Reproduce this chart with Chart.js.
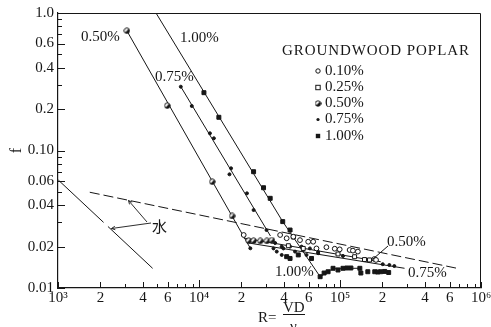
<!DOCTYPE html>
<html><head><meta charset="utf-8">
<script src="https://cdn.jsdelivr.net/npm/chart.js@4"></script>
<style>html,body{margin:0;padding:0;background:#fff;}canvas{display:block;}</style>
</head><body>
<canvas id="c" width="491" height="327" style="width:491px;height:327px"></canvas>
<script>
const INK = '#161616';
const SERIF = '"Liberation Serif", "DejaVu Serif", serif';

// ---- axes ----
const xTickValues = [1e3, 2e3, 4e3, 6e3, 1e4, 2e4, 4e4, 6e4, 1e5, 2e5, 4e5, 6e5, 1e6];
const xTickLabels = ['10³', '2', '4', '6', '10⁴', '2', '4', '6', '10⁵', '2', '4', '6', '10⁶'];
const xMinorTicks = [3e3, 5e3, 7e3, 8e3, 9e3, 3e4, 5e4, 7e4, 8e4, 9e4, 3e5, 5e5, 7e5, 8e5, 9e5];
const yTickValues = [0.01, 0.02, 0.04, 0.06, 0.1, 0.2, 0.4, 0.6, 1.0];
const yTickLabels = ['0.01', '0.02', '0.04', '0.06', '0.10', '0.2', '0.4', '0.6', '1.0'];
const yMinorTicks = [0.03, 0.05, 0.07, 0.08, 0.09, 0.3, 0.5, 0.7, 0.8, 0.9];
const yTitle = 'f';
const chartTitle = 'GROUNDWOOD POPLAR';
const seriesNames = ['0.10%', '0.25%', '0.50%', '0.75%', '1.00%'];

// ---- measured points (R, f) ----
const re010 = [20750, 37620, 41850, 46670, 52030, 59500, 64550, 68100, 80100, 91780, 99500, 117000, 123500, 133900, 175500, 180100];
const f010  = [0.0243, 0.0243, 0.0230, 0.0236, 0.0223, 0.0217, 0.0217, 0.0194, 0.0198, 0.0193, 0.0191, 0.0189, 0.0187, 0.0184, 0.01625, 0.0160];

const re025 = [43030, 54880, 96800, 126900, 149200, 161900];
const f025  = [0.0203, 0.0194, 0.01768, 0.01689, 0.0161, 0.0160];

const re050 = [3078, 5953, 12410, 17160, 22490, 24400, 27200, 30270, 32840];
const f050  = [0.743, 0.2118, 0.0593, 0.0334, 0.0221, 0.0221, 0.0220, 0.0220, 0.0223];

const re075 = [7430, 8886, 11950, 12750, 16880, 16450, 21880, 24390, 30120, 23130,
               34680, 44240, 69990, 105000, 200900, 223900, 242800,
               33750, 35590, 38600, 39670, 47970, 54880, 57890, 53400, 38600, 61170, 69990];
const f075  = [0.2911, 0.2107, 0.1334, 0.1227, 0.0742, 0.0671, 0.0488, 0.0369, 0.0264, 0.01944,
               0.02125, 0.0200, 0.0183, 0.0171, 0.0149, 0.0147, 0.01445,
               0.0194, 0.0184, 0.0174, 0.0194, 0.0184, 0.0189, 0.0174, 0.0200, 0.0200, 0.0194, 0.0179];

const re100 = [10840, 13830, 24390, 28690, 31980, 39250, 44240, 46670,
               41850, 50600, 62800, 44240,
               72300, 77150, 82330, 89290, 96800, 105000, 112000, 119500, 138300, 140600, 157500, 176400, 185200, 194400, 207500, 221400];
const f100  = [0.2633, 0.1744, 0.0701, 0.0536, 0.0449, 0.0304, 0.0264, 0.0235,
               0.0169, 0.0174, 0.0164, 0.0164,
               0.01208, 0.01285, 0.01313, 0.01391, 0.01352, 0.01391, 0.01398, 0.01398, 0.01391, 0.01285, 0.01313, 0.01313, 0.01307, 0.01313, 0.0132, 0.01296];

// ---- fitted curves ----
const waterLamRe = [1005, 4690];       const waterLamF = [0.0610, 0.0139];
const waterTurbRe = [1680, 678000];    const waterTurbF = [0.0497, 0.0139];
const steep050Re = [3078, 23130];      const steep050F = [0.743, 0.01944];
const steep075Re = [7430, 32140];      const steep075F = [0.2911, 0.02388];
const steep100Re = [4956, 39250, 72300]; const steep100F = [1.0, 0.0304, 0.01208];
const flat100Re = [72300, 82330, 89290, 138300]; const flat100F = [0.01208, 0.01313, 0.01391, 0.01391];
const turb050Re = [20750, 194400];     const turb050F = [0.0231, 0.01553];
const turb075Re = [22490, 286900];     const turb075F = [0.02125, 0.01391];

function pts(re, f) { return re.map((r, i) => ({x: r, y: f[i]})); }

function halfDot(size) {
  const c = document.createElement('canvas');
  c.width = size; c.height = size;
  const g = c.getContext('2d');
  const m = size / 2, r = size / 2 - 0.8;
  g.beginPath(); g.arc(m, m, r, 0, Math.PI * 2); g.fillStyle = '#fff'; g.fill();
  g.beginPath(); g.moveTo(m, m); g.arc(m, m, r, -Math.PI / 4, Math.PI * 3 / 4); g.closePath();
  g.fillStyle = INK; g.fill();
  g.beginPath(); g.arc(m, m, r, 0, Math.PI * 2); g.lineWidth = 1; g.strokeStyle = INK; g.stroke();
  return c;
}
const HALF = halfDot(7);

function markerDS(label, re, f, style, r, fill) {
  return {label, data: pts(re, f), showLine: false, pointStyle: style, pointRadius: r,
    pointBackgroundColor: fill, pointBorderColor: INK, pointBorderWidth: 1, order: 0};
}
function lineDS(label, re, f, dash) {
  return {label, data: pts(re, f), showLine: true, borderColor: INK, borderWidth: 1,
    borderDash: dash || [], pointRadius: 0, tension: 0, fill: false, order: 1};
}

const datasets = [
  markerDS(seriesNames[0], re010, f010, 'circle', 2.4, '#fff'),
  markerDS(seriesNames[1], re025, f025, 'rect', 2.8, '#fff'),
  markerDS(seriesNames[2], re050, f050, HALF, 3, INK),
  markerDS(seriesNames[3], re075, f075, 'circle', 1.5, INK),
  markerDS(seriesNames[4], re100, f100, 'rect', 2.8, INK),
  lineDS('water laminar', waterLamRe, waterLamF, [62, 6]),
  lineDS('water turbulent', waterTurbRe, waterTurbF, [10, 4]),
  lineDS('0.50% steep', steep050Re, steep050F),
  lineDS('0.75% steep', steep075Re, steep075F),
  lineDS('1.00% steep', steep100Re, steep100F),
  lineDS('1.00% flat', flat100Re, flat100F),
  lineDS('0.50% turbulent', turb050Re, turb050F),
  lineDS('0.75% turbulent', turb075Re, turb075F),
];

function spreadText(c, text, x0, x1, y) {
  let w = 0;
  const ws = [...text].map(ch => { const m = c.measureText(ch).width; w += m; return m; });
  const gap = (x1 - x0 - w) / Math.max(1, text.length - 1);
  let x = x0;
  [...text].forEach((ch, i) => { c.fillText(ch, x, y); x += ws[i] + gap; });
}
function arrow(c, x0, y0, x1, y1) {
  c.beginPath(); c.moveTo(x0, y0); c.lineTo(x1, y1); c.stroke();
  const a = Math.atan2(y1 - y0, x1 - x0), L = 4;
  c.beginPath(); c.moveTo(x1, y1);
  c.lineTo(x1 - L * Math.cos(a - 0.45), y1 - L * Math.sin(a - 0.45));
  c.moveTo(x1, y1);
  c.lineTo(x1 - L * Math.cos(a + 0.45), y1 - L * Math.sin(a + 0.45));
  c.stroke();
}

const deco = {
  id: 'deco',
  beforeDraw(chart) {
    const c = chart.ctx; c.save(); c.fillStyle = '#fff'; c.fillRect(0, 0, chart.width, chart.height); c.restore();
  },
  afterDraw(chart) {
    const c = chart.ctx, xs = chart.scales.x, ys = chart.scales.y, a = chart.chartArea;
    c.save();
    c.strokeStyle = INK; c.fillStyle = INK; c.lineWidth = 1;
    // frame
    c.beginPath(); c.moveTo(a.left, a.top + 0.5); c.lineTo(a.right - 0.5, a.top + 0.5); c.lineTo(a.right - 0.5, a.bottom); c.stroke();
    // ticks inside
    c.beginPath();
    xTickValues.forEach(v => { const px = Math.round(xs.getPixelForValue(v)) + 0.5; const L = [1e4, 1e5].includes(v) ? 8 : 6; c.moveTo(px, a.bottom); c.lineTo(px, a.bottom - L); });
    xMinorTicks.forEach(v => { const px = Math.round(xs.getPixelForValue(v)) + 0.5; c.moveTo(px, a.bottom); c.lineTo(px, a.bottom - 4); });
    yTickValues.forEach(v => { const py = Math.round(ys.getPixelForValue(v)) + 0.5; c.moveTo(a.left, py); c.lineTo(a.left + 7, py); });
    yMinorTicks.forEach(v => { const py = Math.round(ys.getPixelForValue(v)) + 0.5; c.moveTo(a.left, py); c.lineTo(a.left + 4, py); });
    c.stroke();

    c.textBaseline = 'middle'; c.textAlign = 'left';
    c.font = '15px ' + SERIF;
    c.fillText('0.50%', 81, 37);
    c.fillText('1.00%', 180, 38);
    c.fillText('0.75%', 155, 77);
    c.fillText('0.50%', 387, 242);
    c.fillText('0.75%', 408, 273);
    c.fillText('1.00%', 275, 272);
    // leader for right 0.50%
    c.beginPath(); c.moveTo(388, 246); c.lineTo(373, 259); c.stroke();

    // title
    c.font = '15px ' + SERIF;
    spreadText(c, chartTitle, 282, 479 - c.measureText('R').width, 51);

    // legend
    const rows = [71, 87.5, 103.5, 119.5, 136];
    const mx = 318;
    c.font = '15px ' + SERIF;
    rows.forEach((y, i) => { c.fillText(seriesNames[i], 325, y); });
    c.lineWidth = 1;
    c.beginPath(); c.arc(mx, rows[0], 2.2, 0, Math.PI * 2); c.fillStyle = '#fff'; c.fill(); c.stroke();
    c.fillStyle = '#fff'; c.fillRect(mx - 2.2, rows[1] - 2.2, 4.4, 4.4); c.strokeRect(mx - 2.2, rows[1] - 2.2, 4.4, 4.4);
    c.drawImage(HALF, mx - 3.5, rows[2] - 3.5);
    c.fillStyle = INK;
    c.beginPath(); c.arc(mx, rows[3], 1.6, 0, Math.PI * 2); c.fill();
    c.fillRect(mx - 2.2, rows[4] - 2.2, 4.4, 4.4);

    // water label
    c.font = '15px "Noto Sans CJK JP", sans-serif';
    c.fillText('水', 152, 226);
    c.lineWidth = 0.9;
    arrow(c, 147, 222, 128.5, 200.5);
    arrow(c, 151, 223, 111.5, 228.5);

    // x-axis title R = VD / nu
    c.font = '15px ' + SERIF;
    c.textBaseline = 'middle';
    c.fillText('R=', 258, 318);
    c.fillText('VD', 283, 308);
    c.lineWidth = 1;
    c.beginPath(); c.moveTo(283, 314.5); c.lineTo(305, 314.5); c.stroke();
    c.textBaseline = 'alphabetic';
    c.fillText('ν', 290, 331);
    c.restore();
  }
};

new Chart(document.getElementById('c'), {
  type: 'scatter',
  data: {datasets},
  plugins: [deco],
  options: {
    responsive: false, animation: false, events: [],
    layout: {padding: {top: 13, right: 10, left: 0, bottom: 0}},
    plugins: {legend: {display: false}, tooltip: {enabled: false}},
    scales: {
      x: {
        type: 'logarithmic', min: 1e3, max: 1e6,
        afterFit(s) { s.height = 39; s.paddingLeft = 0; s.paddingRight = 0; },
        afterBuildTicks(s) { s.ticks = xTickValues.map(v => ({value: v})); },
        ticks: {autoSkip: false, maxRotation: 0, padding: 1, color: INK, font: {family: SERIF, size: 15},
          callback: (v) => { const i = xTickValues.findIndex(t => Math.abs(t - v) / t < 1e-6); return i < 0 ? '' : xTickLabels[i]; }},
        grid: {display: false, drawTicks: false},
        border: {display: true, color: INK, width: 1.2}
      },
      y: {
        type: 'logarithmic', min: 0.01, max: 1.0,
        afterFit(s) { s.width = 58; s.paddingTop = 0; s.paddingBottom = 0; },
        afterBuildTicks(s) { s.ticks = yTickValues.map(v => ({value: v})); },
        ticks: {autoSkip: false, padding: 4, color: INK, font: {family: SERIF, size: 15},
          callback: (v) => { const i = yTickValues.findIndex(t => Math.abs(t - v) / t < 1e-6); return i < 0 ? '' : yTickLabels[i]; }},
        title: {display: true, text: yTitle, color: INK, font: {family: SERIF, size: 16}, padding: {top: 7, bottom: 0}},
        grid: {display: false, drawTicks: false},
        border: {display: true, color: INK, width: 1.2}
      }
    }
  }
});
</script>
</body></html>
